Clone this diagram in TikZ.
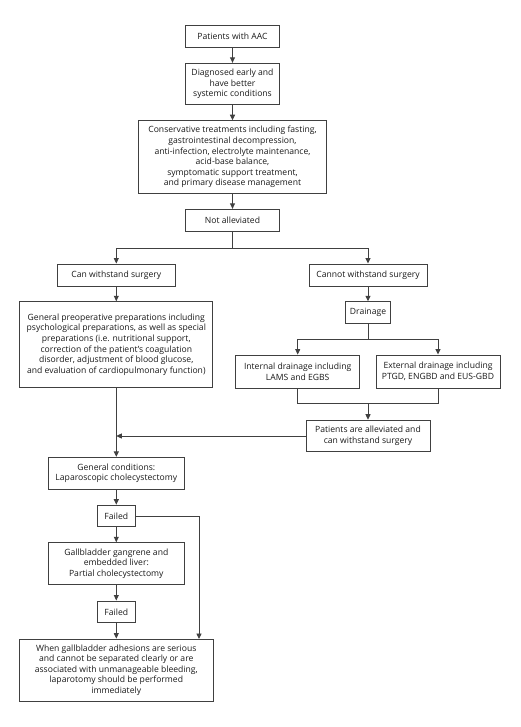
\documentclass[tikz,border=0pt]{standalone}
\usepackage{fontspec}
\setmainfont{Open Sans}
\usetikzlibrary{arrows.meta}
\definecolor{ln}{HTML}{404040}
\definecolor{tx}{HTML}{1A1A1A}
\tikzset{
  box/.style={draw=ln, line width=0.9pt, inner sep=0pt, align=center, text=tx,
    font=\fontsize{8.6}{10.6}\selectfont},
  arr/.style={draw=ln, line width=0.9pt, -{Triangle[length=5.5pt,width=5pt]}},
  ln/.style={draw=ln, line width=0.9pt}
}
\begin{document}
\begin{tikzpicture}[x=1pt,y=-1pt]
\useasboundingbox[fill=white] (0,0) rectangle (520,727);
\node[box, minimum width=93.6pt, minimum height=22pt] (p1) at (232.5,36.7) {Patients with AAC};
\node[box, minimum width=93.6pt, minimum height=41.4pt] (p2) at (232.5,84) {Diagnosed early and\\have better\\systemic conditions};
\node[box, minimum width=188.4pt, minimum height=73pt] (p3) at (232.5,157.2) {Conservative treatments including fasting,\\gastrointestinal decompression,\\anti-infection, electrolyte maintenance,\\acid-base balance,\\symptomatic support treatment,\\and primary disease management};
\node[box, minimum width=93.6pt, minimum height=22pt] (p4) at (232.5,220.3) {Not alleviated};
\node[box, minimum width=117.3pt, minimum height=22pt] (can) at (116.3,275) {Can withstand surgery};
\node[box, minimum width=118pt, minimum height=22pt] (cannot) at (368,275) {Cannot withstand surgery};
\node[box, minimum width=193pt, minimum height=85.6pt] (prep) at (116.3,344.5) {General preoperative preparations including\\psychological preparations, as well as special\\preparations (i.e. nutritional support,\\correction of the patient’s coagulation\\disorder, adjustment of blood glucose,\\and evaluation of cardiopulmonary function)};
\node[box, minimum width=45.7pt, minimum height=21.6pt] (drain) at (368,312.5) {Drainage};
\node[box, minimum width=124pt, minimum height=33pt] (int) at (297.7,371.5) {Internal drainage including\\LAMS and EGBS};
\node[box, minimum width=124pt, minimum height=33pt] (ext) at (438,371.5) {External drainage including\\PTGD, ENGBD and EUS-GBD};
\node[box, minimum width=124pt, minimum height=31.7pt] (all) at (368,436) {Patients are alleviated and\\can withstand surgery};
\node[box, minimum width=135.6pt, minimum height=31.7pt] (gc) at (116.3,473.2) {General conditions:\\Laparoscopic cholecystectomy};
\node[box, minimum width=37.3pt, minimum height=21.7pt] (f1) at (116.3,516) {Failed};
\node[box, minimum width=135.6pt, minimum height=42pt] (gb) at (116.3,563.7) {Gallbladder gangrene and\\embedded liver:\\Partial cholecystectomy};
\node[box, minimum width=37.3pt, minimum height=21.7pt] (f2) at (116.3,611.8) {Failed};
\node[box, minimum width=194pt, minimum height=62pt] (when) at (116.3,670) {When gallbladder adhesions are serious\\and cannot be separated clearly or are\\associated with unmanageable bleeding,\\laparotomy should be performed\\immediately};
\coordinate (s1) at (232.5,248);
\coordinate (s2) at (368,339);
\coordinate (m2) at (368,403.5);
\coordinate (j1) at (116.3,436);
\coordinate (r1) at (199,639);
\draw[arr] (p1) -- (p2);
\draw[arr] (p2) -- (p3);
\draw[arr] (p3) -- (p4);
\draw[ln] (p4) -- (s1);
\draw[arr] (s1) -| (can);
\draw[arr] (s1) -| (cannot);
\draw[arr] (can) -- (prep);
\draw[arr] (cannot) -- (drain);
\draw[ln] (drain) -- (s2);
\draw[arr] (s2) -| (int);
\draw[arr] (s2) -| (ext);
\draw[ln] (int.south) |- (m2) -| (ext.south);
\draw[arr] (m2) -- (all);
\draw[arr] (prep) -- (gc);
\draw[arr] (all) -- (j1);
\draw[arr] (gc) -- (f1);
\draw[arr] (f1) -- (gb);
\draw[arr] (gb) -- (f2);
\draw[arr] (f2) -- (when);
\draw[arr] (f1.east) -| (r1);
\end{tikzpicture}
\end{document}
